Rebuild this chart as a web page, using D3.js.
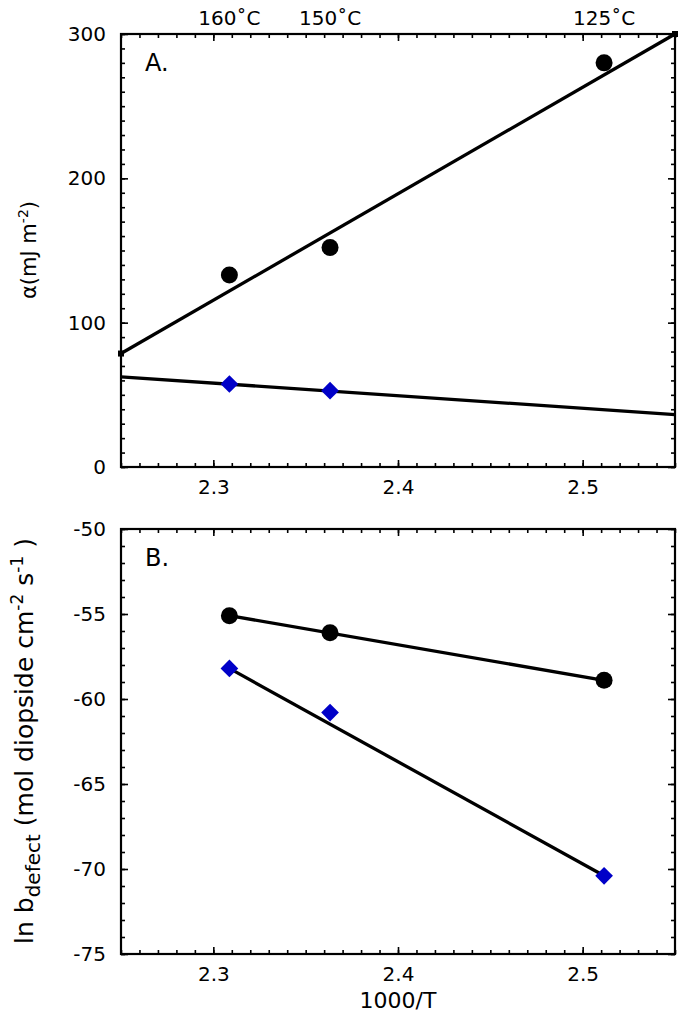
<!DOCTYPE html>
<html><head><meta charset="utf-8">
<script src="https://cdn.jsdelivr.net/npm/d3@7"></script>
<style>body{margin:0;background:#fff}svg{display:block}text{font-family:"DejaVu Sans",sans-serif;fill:#000}</style>
</head><body><svg id="c" width="685" height="1018"></svg>
<script>
// ---- data ----
const invT = [2.3087, 2.3632, 2.5116];
const tempLabels = ["160˚C", "150˚C", "125˚C"];
const alphaCircles = [133, 152, 280];
const alphaDiamonds = [57.5, 52.9];
const alphaCircleFitX = [2.25, 2.55];
const alphaCircleFitY = [78.6, 300];
const alphaDiamondFitX = [2.25, 2.55];
const alphaDiamondFitY = [62.5, 36.3];
const lnbCircles = [-55.1, -56.1, -58.9];
const lnbDiamonds = [-58.2, -60.8, -70.4];
const lnbCircleFitX = [2.3087, 2.5116];
const lnbCircleFitY = [-55.1, -58.9];
const lnbDiamondFitX = [2.3087, 2.5116];
const lnbDiamondFitY = [-58.2, -70.4];
const xTicks = [2.3, 2.4, 2.5];
const alphaTicks = [0, 100, 200, 300];
const lnbTicks = [-50, -55, -60, -65, -70, -75];

const svg = d3.select("#c");
const X0 = 121, X1 = 675;
const BLUE = "#0000c8";
const FS = 20;

function panel(yTop, yBot, yDom, yTicks, yMinorStep, label) {
  const x = d3.scaleLinear().domain([2.25, 2.55]).range([X0, X1]);
  const y = d3.scaleLinear().domain(yDom).range([yBot, yTop]);
  const g = svg.append("g");
  const xMinor = d3.range(2.25, 2.5501, 0.01).map(v => +v.toFixed(2));
  const yMinor = d3.range(yDom[0], yDom[1] + yMinorStep / 2, yMinorStep);
  const style = s => s.call(a => a.select(".domain").remove())
    .call(a => a.selectAll("line").attr("stroke", "#000").attr("stroke-width", 1.6));
  // minor ticks (inward)
  g.append("g").attr("transform", `translate(0,${yBot})`).call(d3.axisBottom(x).tickValues(xMinor).tickSize(-4).tickFormat("")).call(style);
  g.append("g").attr("transform", `translate(0,${yTop})`).call(d3.axisTop(x).tickValues(xMinor).tickSize(-4).tickFormat("")).call(style);
  g.append("g").attr("transform", `translate(${X0},0)`).call(d3.axisLeft(y).tickValues(yMinor).tickSize(-4).tickFormat("")).call(style);
  g.append("g").attr("transform", `translate(${X1},0)`).call(d3.axisRight(y).tickValues(yMinor).tickSize(-4).tickFormat("")).call(style);
  // major ticks
  g.append("g").attr("transform", `translate(0,${yBot})`).call(d3.axisBottom(x).tickValues(xTicks).tickSize(-7).tickFormat(d => d.toFixed(1)))
    .call(style).call(a => a.selectAll("text").attr("font-size", FS).attr("font-family", "DejaVu Sans").attr("fill", "#000").attr("dy", "0.71em").attr("y", 13));
  g.append("g").attr("transform", `translate(0,${yTop})`).call(d3.axisTop(x).tickValues(xTicks).tickSize(-7).tickFormat("")).call(style);
  g.append("g").attr("transform", `translate(${X0},0)`).call(d3.axisLeft(y).tickValues(yTicks).tickSize(-7).tickFormat(d => String(d)))
    .call(style).call(a => a.selectAll("text").attr("font-size", FS).attr("font-family", "DejaVu Sans").attr("fill", "#000").attr("x", -15));
  g.append("g").attr("transform", `translate(${X1},0)`).call(d3.axisRight(y).tickValues(yTicks).tickSize(-7).tickFormat("")).call(style);
  g.append("rect").attr("x", X0).attr("y", yTop).attr("width", X1 - X0).attr("height", yBot - yTop)
    .attr("fill", "none").attr("stroke", "#000").attr("stroke-width", 2.2);
  g.append("text").attr("x", X0 + 24).attr("y", yTop + 37).attr("font-size", 24).text(label);
  return {x, y, g};
}

function fitLine(p, xs, ys) {
  p.g.append("path").datum(xs.map((v, i) => [v, ys[i]]))
    .attr("d", d3.line().x(d => p.x(d[0])).y(d => p.y(d[1])))
    .attr("fill", "none").attr("stroke", "#000").attr("stroke-width", 3.3);
}
function circles(p, xs, ys) {
  p.g.selectAll(null).data(ys).join("circle").attr("cx", (d, i) => p.x(xs[i])).attr("cy", d => p.y(d)).attr("r", 8.5).attr("fill", "#000");
}
function diamonds(p, xs, ys) {
  p.g.selectAll(null).data(ys).join("path")
    .attr("d", d3.symbol(d3.symbolDiamond2, 200))
    .attr("transform", (d, i) => `translate(${p.x(xs[i])},${p.y(d)})`).attr("fill", BLUE);
}

// ---- Panel A ----
const A = panel(34, 467, [0, 300], alphaTicks, 10, "A.");
fitLine(A, alphaCircleFitX, alphaCircleFitY);
fitLine(A, alphaDiamondFitX, alphaDiamondFitY);
A.g.selectAll(null).data(alphaCircleFitY).join("rect")
  .attr("x", (d, i) => A.x(alphaCircleFitX[i]) - 3).attr("y", d => A.y(d) - 3).attr("width", 6).attr("height", 6).attr("fill", "#000");
circles(A, invT, alphaCircles);
diamonds(A, invT.slice(0, 2), alphaDiamonds);
A.g.selectAll(null).data(tempLabels).join("text").attr("x", (d, i) => A.x(invT[i])).attr("y", 25)
  .attr("text-anchor", "middle").attr("font-size", 20).text(d => d);
const ya = svg.append("text").attr("transform", "translate(36,250) rotate(-90)").attr("text-anchor", "middle").attr("font-size", 21);
ya.append("tspan").text("α(mJ m");
ya.append("tspan").attr("dy", -8).attr("font-size", 14).text("-2");
ya.append("tspan").attr("dy", 8).text(")");

// ---- Panel B ----
const B = panel(529, 954, [-75, -50], lnbTicks, 1, "B.");
fitLine(B, lnbCircleFitX, lnbCircleFitY);
fitLine(B, lnbDiamondFitX, lnbDiamondFitY);
circles(B, invT, lnbCircles);
diamonds(B, invT, lnbDiamonds);
const yb = svg.append("text").attr("transform", "translate(33,741) rotate(-90)").attr("text-anchor", "middle").attr("font-size", 25);
yb.append("tspan").text("ln b");
yb.append("tspan").attr("dy", 7).attr("font-size", 20).text("defect");
yb.append("tspan").attr("dy", -7).text("  (mol diopside cm");
yb.append("tspan").attr("dy", -10).attr("font-size", 17).text("-2");
yb.append("tspan").attr("dy", 10).text(" s");
yb.append("tspan").attr("dy", -10).attr("font-size", 17).text("-1");
yb.append("tspan").attr("dy", 10).text(" )");
svg.append("text").attr("x", (X0 + X1) / 2).attr("y", 1008).attr("text-anchor", "middle").attr("font-size", 22).text("1000/T");
</script></body></html>
